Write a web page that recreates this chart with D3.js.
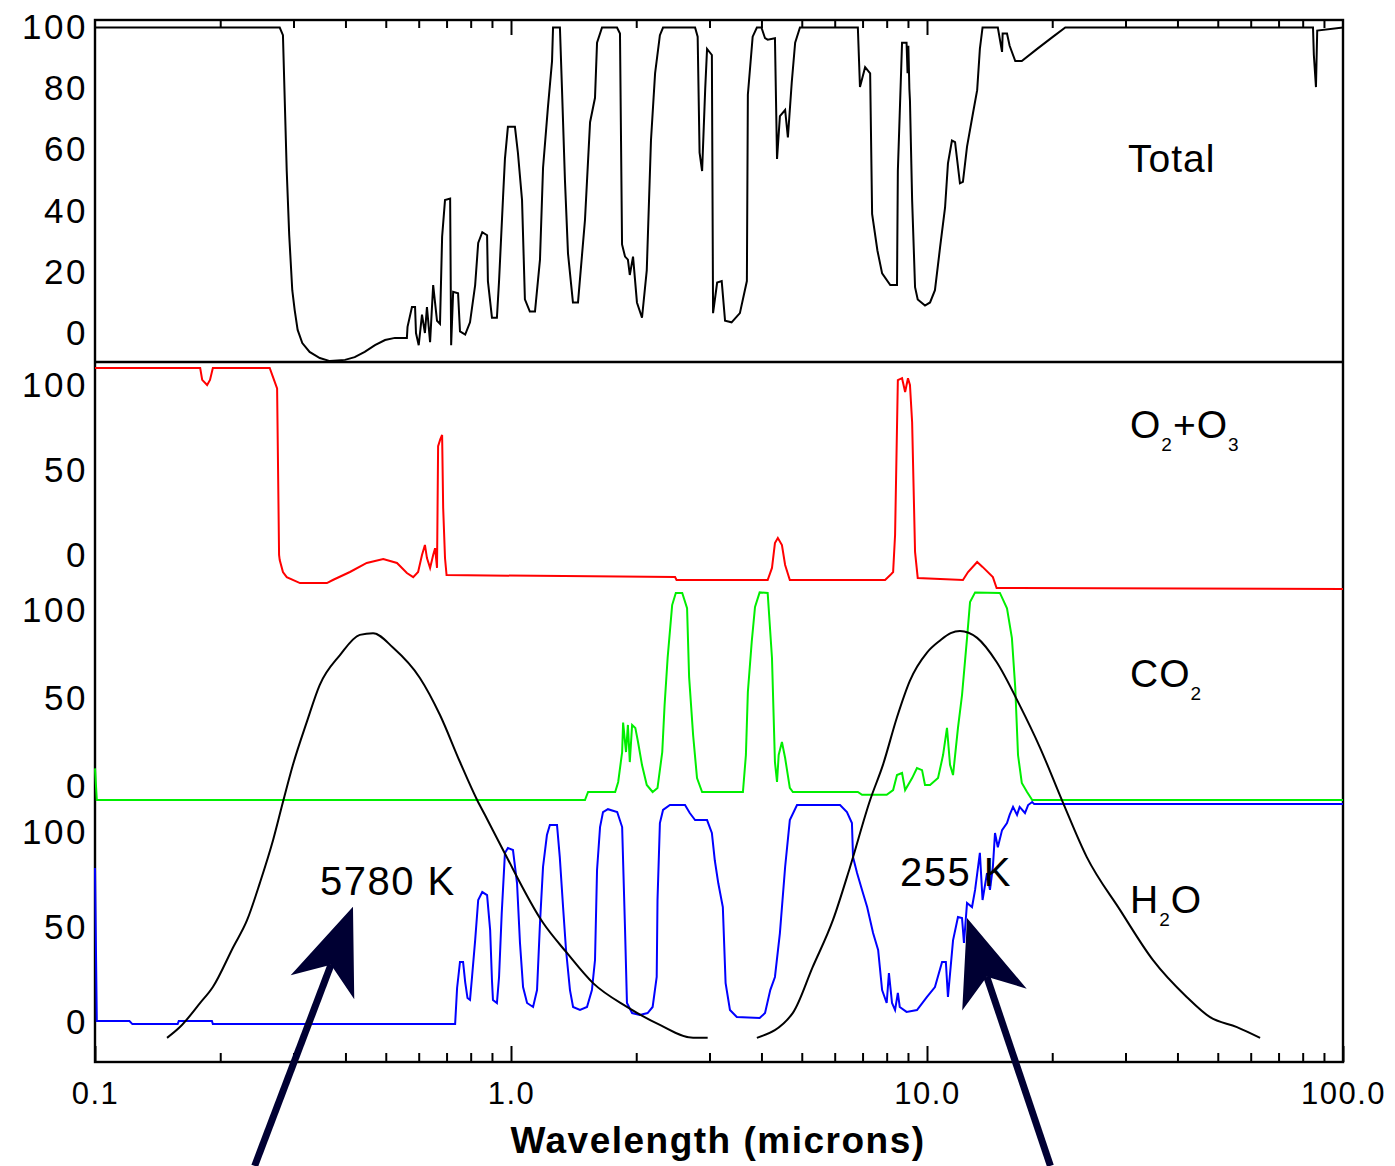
<!DOCTYPE html>
<html>
<head>
<meta charset="utf-8">
<script src="https://cdn.jsdelivr.net/npm/d3@7"></script>
<style>
body { margin: 0; background: #fff; }
text { font-family: "Liberation Sans", Arial, sans-serif; fill: #000; }
</style>
</head>
<body>
<svg id="chart" width="1395" height="1166"></svg>
<script>
// wavelength (microns), value
const totalData = [
  [0.1,100],[0.275,100],[0.278,100],[0.283,97.5],[0.286,75],[0.289,53],[0.293,32],[0.298,14],[0.302,7.5],[0.307,1],
  [0.315,-3.3],[0.328,-6.2],[0.347,-8.2],[0.367,-9.2],[0.399,-8.8],[0.421,-7.9],[0.445,-6.2],[0.471,-4],[0.498,-2.3],
  [0.526,-1.6],[0.562,-1.6],[0.564,2],[0.578,8.5],[0.588,8.5],[0.591,0],[0.60,-4],[0.611,6],[0.621,0],[0.628,8.5],
  [0.639,-3],[0.65,15.7],[0.664,4],[0.675,3],[0.683,31.5],[0.694,43.5],[0.714,44],[0.718,-4],[0.726,13.5],[0.746,13],
  [0.754,0.5],[0.776,-0.5],[0.797,3.5],[0.82,15.7],[0.834,29.5],[0.853,33],[0.876,32],[0.88,17],[0.9,5],[0.925,5],
  [0.936,17],[0.957,44.5],[0.967,57],[0.983,67.5],[1.022,67.5],[1.039,59],[1.063,43.5],[1.08,11],[1.11,7],[1.142,7],
  [1.174,24],[1.194,54],[1.227,74],[1.255,89],[1.262,100],[1.311,100],[1.326,80],[1.348,50],[1.371,26],[1.409,10],
  [1.449,10],[1.506,37],[1.549,69],[1.592,77],[1.61,95],[1.655,100],[1.798,100],[1.828,98],[1.849,29],[1.88,25],
  [1.91,24],[1.93,19],[1.965,25],[2.008,10],[2.065,5],[2.12,20.5],[2.17,63],[2.22,85],[2.28,97.5],[2.32,100],
  [2.77,100],[2.81,97],[2.84,59],[2.88,53],[2.93,80],[2.96,93],[3.04,91],[3.06,6.5],[3.13,16.5],[3.21,17],[3.27,4],
  [3.39,3.5],[3.55,6.5],[3.69,17],[3.71,78],[3.81,97],[3.9,100],[4.0,100],[4.08,96.5],[4.14,96],[4.31,96.5],
  [4.36,57],[4.43,71],[4.56,73],[4.63,64],[4.73,82],[4.82,95],[4.95,100],[6.82,100],[6.9,80.5],[7.1,87],[7.3,85],
  [7.38,39],[7.6,27],[7.8,19.5],[8.16,15.7],[8.47,15.7],[8.51,53],[8.71,95],[8.93,95],[8.98,85],[9.02,94],[9.07,80],
  [9.1,76],[9.21,43.5],[9.36,15],[9.5,11],[9.89,9],[10.17,10],[10.45,14],[10.75,28],[11.05,41],[11.23,55.5],
  [11.48,63],[11.68,62.5],[12.0,49],[12.2,49.5],[12.48,61],[12.9,72],[13.2,79.5],[13.4,93],[13.6,100],[14.8,100],
  [15.15,92],[15.2,98],[15.57,98],[15.8,94],[16.3,89],[16.9,89],[18.4,93],[20.1,97],[21.5,100],[84.7,100],
  [85.1,91],[86.1,80.5],[86.7,99],[100,100]
];

const o2o3Data = [
  [0.1,110],[0.179,110],[0.181,103],[0.186,100],[0.189,103],[0.192,110],[0.263,110],[0.268,104.5],[0.274,98],
  [0.277,0],[0.278,-3],[0.283,-10],[0.289,-13],[0.311,-16.5],[0.361,-16.5],[0.373,-14.7],[0.41,-10],[0.45,-4.7],
  [0.493,-2.4],[0.532,-4.7],[0.562,-10.6],[0.582,-13],[0.598,-10],[0.611,0],[0.621,5.9],[0.628,-1.8],[0.639,-7.6],
  [0.65,0],[0.657,4],[0.664,-7.6],[0.668,64],[0.676,68],[0.683,70.6],[0.687,27.6],[0.694,-1.8],[0.70,-11.8],
  [2.48,-13],[2.5,-14.7],[4.14,-14.7],[4.24,-7.6],[4.31,7],[4.38,10],[4.48,5.9],[4.56,-5.9],[4.68,-14.7],
  [7.93,-14.7],[8.16,-11.8],[8.29,-10],[8.38,11.8],[8.51,102.9],[8.71,104],[8.86,95.9],[9.0,104],[9.1,100],
  [9.21,78],[9.36,1.8],[9.5,-13.5],[12.2,-14.7],[12.55,-10],[13.2,-4.1],[13.6,-7],[14.4,-13],[14.7,-19.4],[100,-20]
];

const co2Data = [
  [0.1,10],[0.101,-8],[1.506,-8],[1.532,-3.4],[1.78,-3.4],[1.81,2.3],[1.85,19.3],[1.86,36],[1.89,19.3],[1.91,34.7],
  [1.93,13.6],[1.955,34.7],[1.99,33],[2.02,25],[2.065,11.9],[2.12,0.6],[2.19,-3.4],[2.25,-1.1],[2.31,19.3],[2.34,46],
  [2.38,73],[2.44,102.8],[2.49,109.7],[2.58,109.7],[2.65,101],[2.68,62],[2.74,29],[2.8,4.5],[2.88,-3.4],[3.61,-3.4],
  [3.67,17.6],[3.71,53.4],[3.79,81.8],[3.86,101.7],[3.96,110],[4.14,109.7],[4.24,72.7],[4.31,13.6],[4.36,2.3],
  [4.4,17.6],[4.48,25],[4.56,15.9],[4.68,-1.1],[4.76,-3.4],[6.82,-3.4],[6.98,-5],[8.0,-5],[8.29,-2.3],[8.47,6.2],
  [8.71,7.4],[8.86,-2.3],[9.21,4.5],[9.46,10.2],[9.73,9],[9.89,0.6],[10.17,0.6],[10.63,4.5],[10.93,17.6],[11.17,33],
  [11.36,12],[11.55,6.2],[11.87,33],[12.14,51.7],[12.48,84],[12.69,104.5],[13.05,110],[14.97,109.7],[15.57,101],
  [16.0,84],[16.3,55.7],[16.55,17.6],[16.9,1.7],[17.4,-3.4],[17.9,-8],[100,-8]
];

const h2oData = [
  [0.1,81],[0.101,0.5],[0.121,0.5],[0.123,-1.1],[0.158,-1.1],[0.159,0.5],[0.191,0.5],[0.192,-1.1],[0.734,-1.1],
  [0.742,17.9],[0.754,31.6],[0.767,31.6],[0.776,21],[0.786,12.6],[0.797,11.6],[0.806,23.7],[0.82,43],[0.834,64.2],
  [0.853,68.4],[0.876,66.8],[0.891,48.4],[0.9,22],[0.905,11.6],[0.925,10],[0.936,23.7],[0.95,57.4],[0.967,88.9],
  [0.983,91.6],[1.011,90.5],[1.034,73],[1.051,41.6],[1.069,18.4],[1.093,10],[1.13,7.9],[1.155,16.8],[1.174,52],
  [1.194,81.6],[1.22,98.4],[1.24,103.7],[1.29,103.7],[1.31,86.8],[1.334,60.5],[1.356,37.9],[1.386,16.8],[1.41,7.9],
  [1.465,6.3],[1.523,7.9],[1.565,16.8],[1.592,32.6],[1.61,80],[1.637,102.6],[1.664,110.5],[1.71,112],[1.8,110.5],
  [1.85,102.6],[1.88,48.4],[1.9,10],[1.955,4.7],[2.04,3.7],[2.13,4.7],[2.19,7.9],[2.24,23.7],[2.25,64.2],[2.28,104.7],
  [2.32,111.6],[2.41,114.2],[2.62,114.2],[2.69,110],[2.77,106.3],[2.96,106.3],[3.04,99.5],[3.09,85],[3.15,73],
  [3.23,60.5],[3.28,20.5],[3.36,6.3],[3.49,2.6],[3.96,2.1],[4.08,4.7],[4.2,16.8],[4.31,23.7],[4.43,46.8],[4.56,81.6],
  [4.68,106.3],[4.87,114.2],[6.18,114.2],[6.42,110.5],[6.6,104.7],[6.64,86.8],[6.79,78.4],[6.98,69.5],[7.18,60.5],
  [7.42,46.8],[7.63,37.9],[7.8,16.8],[8.0,10],[8.1,25.8],[8.24,10],[8.38,6.3],[8.51,15.3],[8.6,7.9],[8.93,5.3],
  [9.46,6.3],[10.0,13.2],[10.45,18.4],[10.87,31.6],[11.1,31.6],[11.23,13.2],[11.55,43],[11.87,55.3],[12.14,54.7],
  [12.27,41.6],[12.48,62.6],[12.83,60.5],[13.05,69.5],[13.4,89],[13.6,64.2],[13.94,78.4],[14.17,69.5],[14.4,81.6],
  [14.57,99.5],[14.8,92],[15.15,101],[15.57,104.7],[15.8,109],[16.1,113.2],[16.46,109],[16.7,113.2],[17.2,110],
  [17.5,114.2],[17.9,115.8],[18.1,114.7],[100,114.7]
];

// blackbody curves, relative intensity
const sun5780 = [
  [0.149,0.056],[0.160,0.081],[0.179,0.137],[0.192,0.174],[0.215,0.267],[0.232,0.329],[0.249,0.415],[0.268,0.515],
  [0.283,0.603],[0.299,0.689],[0.323,0.789],[0.347,0.875],[0.388,0.944],[0.433,0.991],[0.466,0.995],[0.521,0.961],
  [0.604,0.891],[0.675,0.805],[0.754,0.696],[0.829,0.608],[0.866,0.573],[0.957,0.492],[1.194,0.323],[1.363,0.253],
  [1.575,0.183],[1.9,0.128],[2.28,0.086],[2.74,0.056],[2.97,0.056]
];
const earth255 = [
  [3.9,0.056],[4.76,0.114],[5.31,0.22],[5.94,0.329],[6.53,0.452],[7.3,0.608],[7.84,0.69],[8.47,0.8],[9.1,0.885],
  [10.0,0.95],[10.75,0.978],[11.4,0.995],[12.0,1.0],[13.2,0.984],[14.7,0.928],[16.7,0.828],[18.7,0.729],[21.2,0.603],
  [24.2,0.476],[29.1,0.353],[34.9,0.237],[42.1,0.151],[47.9,0.104],[55.6,0.081],[63.2,0.056]
];

const xMajor = [0.1, 1, 10, 100];
const xMajorLabels = ["0.1", "1.0", "10.0", "100.0"];
const xMinor = [0.2,0.3,0.4,0.5,0.6,0.7,0.8,0.9,2,3,4,5,6,7,8,9,20,30,40,50,60,70,80,90];
const totalTicks = [0, 20, 40, 60, 80, 100];
const gasTicks = [0, 50, 100];

const frameL = 95, frameR = 1343, frameT = 20, frameB = 1062;
const svg = d3.select("#chart");

const x = d3.scaleLog().domain([0.1, 100]).range([frameL, frameR]);
const yTotal = d3.scaleLinear().domain([0, 100]).range([333, 27.5]);
const yO2 = d3.scaleLinear().domain([0, 100]).range([555, 385]);
const yCO2 = d3.scaleLinear().domain([0, 100]).range([786, 610]);
const yH2O = d3.scaleLinear().domain([0, 100]).range([1022, 832]);
const yBB = d3.scaleLinear().domain([0, 1]).range([1062, 631]);

const drawSeries = (data, y, color, curve) => {
    svg.append("path")
        .datum(data)
        .attr("fill", "none")
        .attr("stroke", color)
        .attr("stroke-width", 2)
        .attr("d", d3.line()
            .x(d => x(d[0]))
            .y(d => y(d[1]))
            .curve(curve || d3.curveLinear));
}

// frame
svg.append("rect")
    .attr("x", frameL).attr("y", frameT)
    .attr("width", frameR - frameL).attr("height", frameB - frameT)
    .attr("fill", "none").attr("stroke", "#000").attr("stroke-width", 2.4);

svg.append("line")
    .attr("x1", frameL).attr("x2", frameR)
    .attr("y1", 362).attr("y2", 362)
    .attr("stroke", "#000").attr("stroke-width", 2.4);

// x axes (ticks inside)
const tickStyle = g => {
    g.select(".domain").remove();
    g.selectAll(".tick line").attr("stroke", "#000").attr("stroke-width", 2);
}

svg.append("g")
    .attr("transform", `translate(0,${frameB})`)
    .call(d3.axisBottom(x).tickValues(xMinor).tickSize(-9).tickFormat(""))
    .call(tickStyle);

svg.append("g")
    .attr("transform", `translate(0,${frameB})`)
    .call(d3.axisBottom(x).tickValues(xMajor).tickSize(-16).tickPadding(20)
        .tickFormat((d, i) => xMajorLabels[i]))
    .call(tickStyle)
    .attr("font-family", null).attr("font-size", null)
    .selectAll("text")
    .attr("font-size", 31).attr("letter-spacing", 1.5);

svg.append("g")
    .attr("transform", `translate(0,${frameT})`)
    .call(d3.axisTop(x).tickValues(xMinor).tickSize(-8).tickFormat(""))
    .call(tickStyle);

svg.append("g")
    .attr("transform", `translate(0,${frameT})`)
    .call(d3.axisTop(x).tickValues([1, 10]).tickSize(-15).tickFormat(""))
    .call(tickStyle);

// y labels for each panel
const drawYLabels = (scale, ticks) => {
    svg.append("g")
        .attr("transform", `translate(${frameL},0)`)
        .call(d3.axisLeft(scale).tickValues(ticks).tickSize(0).tickPadding(7))
        .call(g => g.select(".domain").remove())
        .attr("font-family", null).attr("font-size", null)
        .selectAll("text")
        .attr("font-size", 35).attr("letter-spacing", 2.5);
}
drawYLabels(yTotal, totalTicks);
drawYLabels(yO2, gasTicks);
drawYLabels(yCO2, gasTicks);
drawYLabels(yH2O, gasTicks);

// spectra
drawSeries(o2o3Data, yO2, "#ff0000");
drawSeries(co2Data, yCO2, "#00ee00");
drawSeries(h2oData, yH2O, "#0000ff");
drawSeries(totalData, yTotal, "#000");

// blackbody curves
drawSeries(sun5780, yBB, "#000", d3.curveMonotoneX);
drawSeries(earth255, yBB, "#000", d3.curveMonotoneX);

// panel names with subscripts
const drawName = (parts, px, py) => {
    const t = svg.append("text").attr("x", px).attr("y", py)
        .attr("font-size", 39).attr("letter-spacing", 1);
    let shift = 0;
    parts.forEach(p => {
        const sub = p[1];
        const target = sub ? 13 : 0;
        t.append("tspan")
            .attr("dy", target - shift)
            .attr("font-size", sub ? 19 : 39)
            .text(p[0]);
        shift = target;
    });
}
drawName([["Total", false]], 1128, 172);
drawName([["O", false], ["2", true], ["+O", false], ["3", true]], 1130, 438);
drawName([["CO", false], ["2", true]], 1130, 687);
drawName([["H", false], ["2", true], ["O", false]], 1130, 913);

svg.append("text").attr("x", 320).attr("y", 895)
    .attr("font-size", 40).attr("letter-spacing", 1.5).text("5780 K");
svg.append("text").attr("x", 900).attr("y", 886)
    .attr("font-size", 40).attr("letter-spacing", 1.5).text("255 K");

svg.append("text")
    .attr("x", 718).attr("y", 1153)
    .attr("text-anchor", "middle")
    .attr("font-size", 37).attr("font-weight", "bold").attr("letter-spacing", 1.5)
    .text("Wavelength (microns)");

// arrows pointing at the two peaks
const drawArrow = (tip, tail) => {
    const tx = x(tip[0]), ty = yBB(tip[1]);
    const sx = x(tail[0]), sy = yBB(tail[1]);
    const len = Math.hypot(tx - sx, ty - sy);
    const ux = (tx - sx) / len, uy = (ty - sy) / len;
    const nx = -uy, ny = ux;
    const L = 86, W = 34, notch = 62;
    const bx = tx - ux * L, by = ty - uy * L;
    const jx = tx - ux * notch, jy = ty - uy * notch;

    svg.append("line")
        .attr("x1", sx).attr("y1", sy).attr("x2", jx).attr("y2", jy)
        .attr("stroke", "#000033").attr("stroke-width", 7);

    svg.append("polygon")
        .attr("points", [[tx, ty], [bx + nx * W, by + ny * W], [jx, jy], [bx - nx * W, by - ny * W]]
            .map(p => p.join(",")).join(" "))
        .attr("fill", "#000033");
}
drawArrow([0.417, 0.36], [0.242, -0.241]);
drawArrow([12.48, 0.334], [19.8, -0.241]);
</script>
</body>
</html>
